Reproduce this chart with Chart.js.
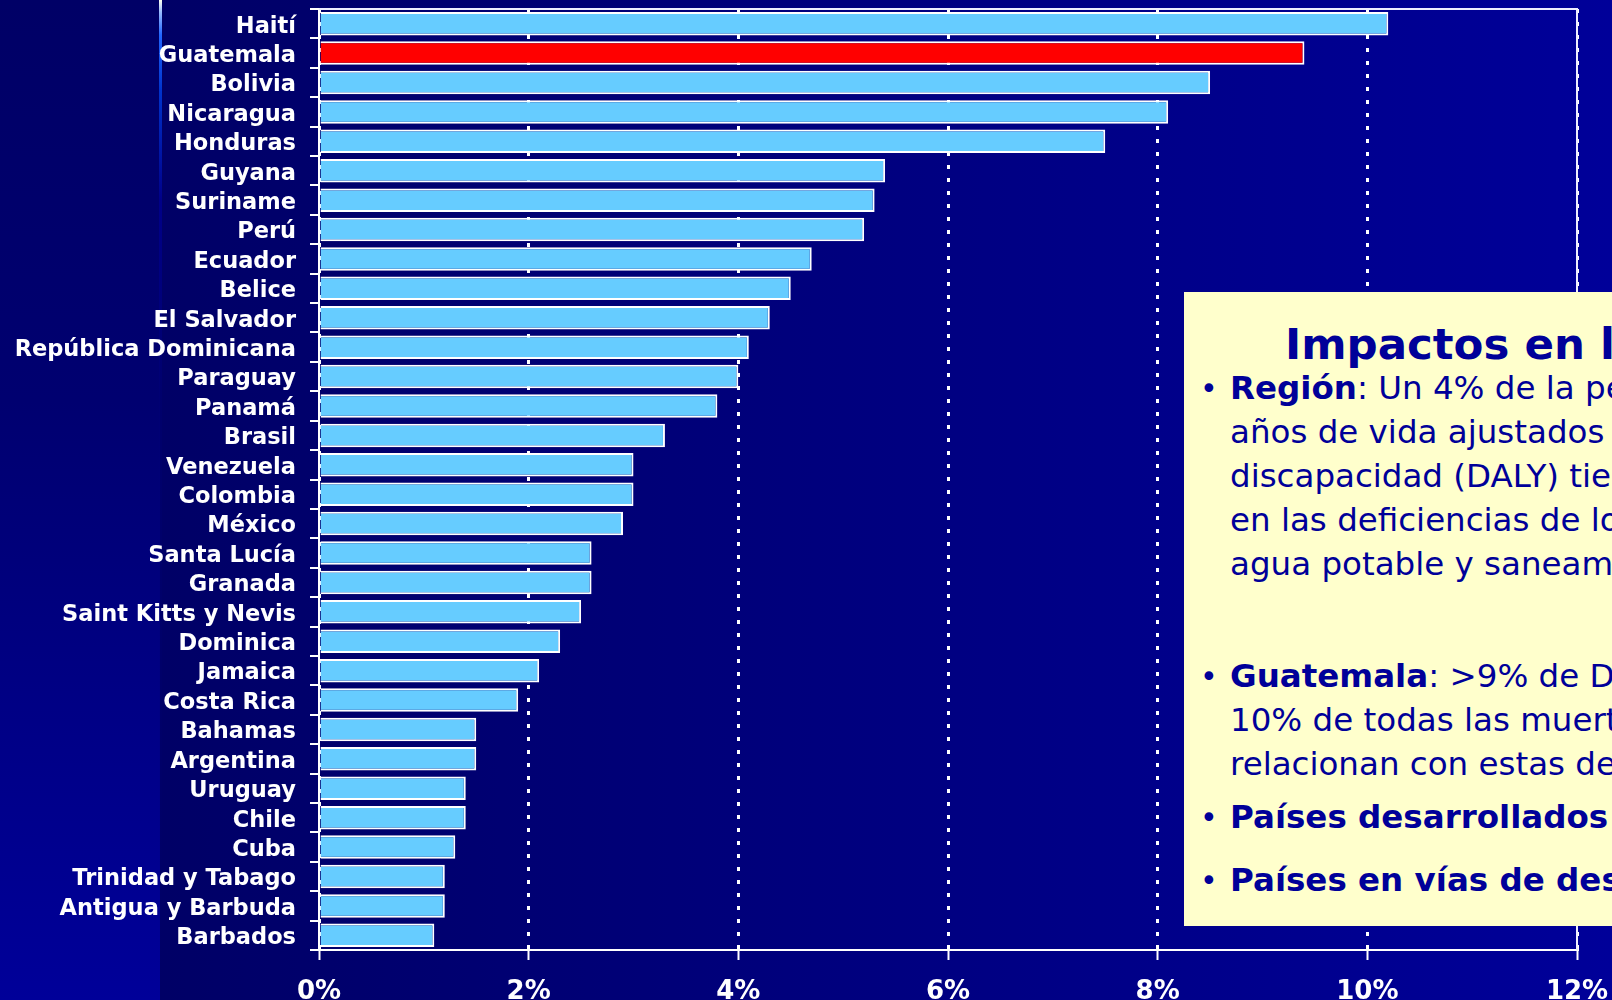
<!DOCTYPE html>
<html>
<head>
<meta charset="utf-8">
<script src="https://cdn.jsdelivr.net/npm/chart.js@4/dist/chart.umd.min.js"></script>
<style>
  html, body { margin:0; padding:0; }
  body { width:1612px; height:1000px; overflow:hidden; position:relative;
         background: linear-gradient(to right, #000066 0px, #000066 160px, #000099 1612px); }
  #strip { position:absolute; left:0; top:0; width:160px; height:1000px;
           background: linear-gradient(to bottom, #000066 0%, #000070 40%, #000099 100%); }
  #vline { position:absolute; left:159px; top:0; width:3px; height:1000px;
           background: linear-gradient(to bottom, #ffffee 0px, #99bbff 12px, #2266ff 35px, #0033cc 90px, #000088 200px, rgba(0,0,120,0.3) 400px, rgba(0,0,140,0) 1000px); }
  #c { position:absolute; left:0; top:0; }
  #box { position:absolute; left:1184px; top:292px; width:428px; height:634px;
         background:#FFFFCC; overflow:hidden; white-space:nowrap; color:#000099;
         font-family:"DejaVu Sans", sans-serif; }
  #box div { position:absolute; line-height:1; }
  .t { font-size:43.5px; font-weight:bold; }
  .l { font-size:32.5px; left:46px; }
  .b { font-size:30px; left:16px; }
  b { font-weight:bold; }
</style>
</head>
<body>
<div id="strip"></div>
<div id="vline"></div>
<canvas id="c" width="1612" height="1000"></canvas>
<div id="box">
  <div class="t" style="left:101px; top:31px;">Impactos en la salud</div>
  <div class="b" style="top:82px;">•</div>
  <div class="l" style="top:80px;"><b>Región</b>: Un 4% de la pérdida</div>
  <div class="l" style="top:124px;">años de vida ajustados</div>
  <div class="l" style="top:168px;">discapacidad (DALY) tiene</div>
  <div class="l" style="top:212px;">en las deficiencias de los</div>
  <div class="l" style="top:256px;">agua potable y saneamiento</div>
  <div class="b" style="top:370px;">•</div>
  <div class="l" style="top:368px;"><b>Guatemala</b>: &gt;9% de DALY</div>
  <div class="l" style="top:412px;">10% de todas las muertes</div>
  <div class="l" style="top:456px;">relacionan con estas deficiencias</div>
  <div class="b" style="top:511px;">•</div>
  <div class="l" style="top:509px;"><b>Países desarrollados</b></div>
  <div class="b" style="top:574px;">•</div>
  <div class="l" style="top:572px;"><b>Países en vías de desarrollo</b></div>
</div>
<script>
const categories = ["Haití","Guatemala","Bolivia","Nicaragua","Honduras","Guyana","Suriname","Perú","Ecuador","Belice","El Salvador","República Dominicana","Paraguay","Panamá","Brasil","Venezuela","Colombia","México","Santa Lucía","Granada","Saint Kitts y Nevis","Dominica","Jamaica","Costa Rica","Bahamas","Argentina","Uruguay","Chile","Cuba","Trinidad y Tabago","Antigua y Barbuda","Barbados"];
const values = [10.2,9.4,8.5,8.1,7.5,5.4,5.3,5.2,4.7,4.5,4.3,4.1,4.0,3.8,3.3,3.0,3.0,2.9,2.6,2.6,2.5,2.3,2.1,1.9,1.5,1.5,1.4,1.4,1.3,1.2,1.2,1.1];
const xTickLabels = ["0%","2%","4%","6%","8%","10%","12%"];
const highlighted = "Guatemala";
const barColor = "#66CCFF";
const highlightColor = "#FF0000";

const framePlugin = {
  id: 'frame',
  afterDraw(chart) {
    const {ctx, chartArea: a} = chart;
    ctx.save();
    ctx.strokeStyle = '#eeeeff';
    ctx.lineWidth = 2;
    ctx.beginPath();
    ctx.moveTo(a.left, a.top);
    ctx.lineTo(a.right, a.top);
    ctx.lineTo(a.right, a.bottom);
    ctx.stroke();
    ctx.restore();
  }
};

new Chart(document.getElementById('c'), {
  type: 'bar',
  data: {
    labels: categories,
    datasets: [{
      data: values,
      backgroundColor: categories.map(c => c === highlighted ? highlightColor : barColor),
      borderColor: '#ffffff',
      borderWidth: 2,
      barPercentage: 0.8,
      categoryPercentage: 1.0
    }]
  },
  options: {
    indexAxis: 'y',
    responsive: false,
    animation: false,
    devicePixelRatio: 1,
    layout: { padding: { top: 9, right: 35, left: 0, bottom: 0 } },
    plugins: { legend: { display: false }, tooltip: { enabled: false } },
    scales: {
      x: {
        position: 'bottom',
        min: 0, max: 12,
        ticks: {
          stepSize: 2,
          color: '#ffffff',
          font: { family: 'DejaVu Sans', weight: 'bold', size: 26 },
          padding: 17,
          callback: (v, i) => xTickLabels[i]
        },
        grid: { color: '#ffffff', lineWidth: 3, tickLength: 10, tickWidth: 2, tickColor: '#ffffff' },
        border: { display: true, color: '#ffffff', width: 2, dash: [4, 9] },
        afterFit: s => { s.height = 50; s.paddingLeft = 0; s.paddingRight = 0; }
      },
      y: {
        ticks: {
          color: '#ffffff',
          font: { family: 'DejaVu Sans', weight: 'bold', size: 22.5 },
          padding: 14,
          labelOffset: 3,
          autoSkip: false
        },
        grid: { drawOnChartArea: false, offset: true, color: '#ffffff', lineWidth: 2, tickLength: 9 },
        border: { display: true, color: '#ffffff', width: 2 },
        afterFit: s => { s.width = 319; s.paddingTop = 0; s.paddingBottom = 0; }
      }
    }
  },
  plugins: [framePlugin]
});
</script>
</body>
</html>
